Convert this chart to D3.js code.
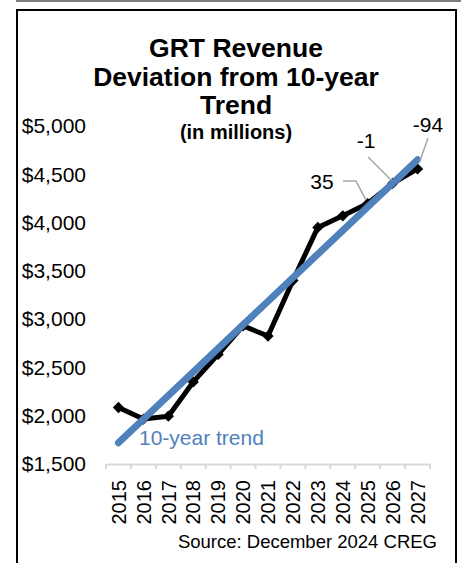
<!DOCTYPE html>
<html>
<head>
<meta charset="utf-8">
<script src="https://cdn.jsdelivr.net/npm/d3@7"></script>
<style>
  html, body { margin: 0; padding: 0; background: #fff; }
  svg { display: block; font-family: "Liberation Sans", Arial, sans-serif; }
</style>
</head>
<body>
<svg id="chart" width="461" height="563"></svg>
<script>
// GRT revenue, $ millions
const years = ["2015","2016","2017","2018","2019","2020","2021","2022","2023","2024","2025","2026","2027"];
const revenue = [2085, 1965, 1995, 2350, 2635, 2930, 2825, 3400, 3950, 4070, 4197, 4405, 4556];
// 10-year trend line end points
const trendYears = ["2015", "2027"];
const trendValues = [1720, 4650];
// deviation labels shown on the last three years
const deviationYears = ["2025", "2026", "2027"];
const deviationLabels = ["35", "-1", "-94"];
const yTicks = [1500, 2000, 2500, 3000, 3500, 4000, 4500, 5000];

const FONT = "Liberation Sans, Arial, sans-serif";
const svg = d3.select("#chart");

// outer frame lines
svg.append("line").attr("x1", 16).attr("x2", 461).attr("y1", 1).attr("y2", 1)
  .attr("stroke", "#555").attr("stroke-width", 1.5);
svg.append("path").attr("d", "M17,563 V10 H456 V563")
  .attr("fill", "none").attr("stroke", "#000").attr("stroke-width", 2);

const x = d3.scaleBand().domain(years).range([106, 430]);
const y = d3.scaleLinear().domain([1500, 5000]).range([464, 126]);

// title
const title = svg.append("text").attr("text-anchor", "middle")
  .attr("font-weight", "bold").attr("font-size", 26.5).attr("fill", "#000");
[["GRT Revenue", 57], ["Deviation from 10-year", 86], ["Trend", 114]].forEach(([t, yy]) => {
  title.append("tspan").attr("x", 236).attr("y", yy).text(t);
});
svg.append("text").attr("x", 236).attr("y", 139).attr("text-anchor", "middle")
  .attr("font-weight", "bold").attr("font-size", 20).text("(in millions)");

// y axis labels (no axis line)
const yAxis = svg.append("g").attr("transform", "translate(86,0)")
  .call(d3.axisLeft(y).tickValues(yTicks).tickSize(0).tickPadding(0)
    .tickFormat(d => "$" + d3.format(",")(d)));
yAxis.select(".domain").remove();
yAxis.selectAll("text").attr("font-size", 21).attr("font-family", FONT).attr("fill", "#000");

// x axis
const xAxis = svg.append("g").attr("transform", "translate(0,464)")
  .call(d3.axisBottom(x).tickSizeOuter(0).tickSizeInner(0).tickPadding(0));
xAxis.select(".domain").attr("stroke", "#d9d9d9").attr("stroke-width", 2);
xAxis.selectAll(".tick line").remove();
const edges = years.map(d => x(d)).concat([x.range()[1]]);
xAxis.selectAll("line.edge").data(edges).join("line").attr("class", "edge")
  .attr("x1", d => d).attr("x2", d => d).attr("y1", 0).attr("y2", 5)
  .attr("stroke", "#d9d9d9").attr("stroke-width", 2);
xAxis.selectAll(".tick text")
  .attr("font-size", 20).attr("font-family", FONT).attr("fill", "#000")
  .attr("transform", "rotate(-90)").attr("text-anchor", "end")
  .attr("x", -16).attr("y", 0).attr("dy", "0.36em");

const cx = d => x(d) + x.bandwidth() / 2;

// revenue series
const line = d3.line().x((d, i) => cx(years[i])).y(d => y(d));
svg.append("path").datum(revenue).attr("d", line)
  .attr("fill", "none").attr("stroke", "#000").attr("stroke-width", 5)
  .attr("stroke-linejoin", "round");
svg.append("g").selectAll("path").data(revenue).join("path")
  .attr("d", d3.symbol(d3.symbolSquare, 64))
  .attr("transform", (d, i) => `translate(${cx(years[i])},${y(d)}) rotate(45)`)
  .attr("fill", "#000");

// trend line
svg.append("line")
  .attr("x1", cx(trendYears[0])).attr("y1", y(trendValues[0]))
  .attr("x2", cx(trendYears[1])).attr("y2", y(trendValues[1]))
  .attr("stroke", "#4f81bd").attr("stroke-width", 7).attr("stroke-linecap", "round");
svg.append("text").attr("x", 139).attr("y", 445).attr("font-size", 21)
  .attr("fill", "#4f81bd").text("10-year trend");

// deviation labels with leader lines
const labelPos = [
  { lx: 322, ly: 189, leader: (px, py) => `M343,181 H356 L${px - 2},${py - 4}` },
  { lx: 366, ly: 148, leader: (px, py) => `M368,157 L${px - 1},${py - 3}` },
  { lx: 428, ly: 132, leader: (px, py) => `M428,138 L${px + 2},${py - 7}` }
];
deviationYears.forEach((yr, k) => {
  const i = years.indexOf(yr);
  const px = cx(yr), py = y(revenue[i]);
  const p = labelPos[k];
  svg.append("path").attr("d", p.leader(px, py)).attr("fill", "none")
    .attr("stroke", "#a6a6a6").attr("stroke-width", 1.5);
  svg.append("text").attr("x", p.lx).attr("y", p.ly).attr("text-anchor", "middle")
    .attr("font-size", 21).attr("fill", "#000").text(deviationLabels[k]);
});

// source note
svg.append("text").attr("x", 437).attr("y", 548).attr("text-anchor", "end")
  .attr("font-size", 18.5).attr("fill", "#000").text("Source: December 2024 CREG");
</script>
</body>
</html>
